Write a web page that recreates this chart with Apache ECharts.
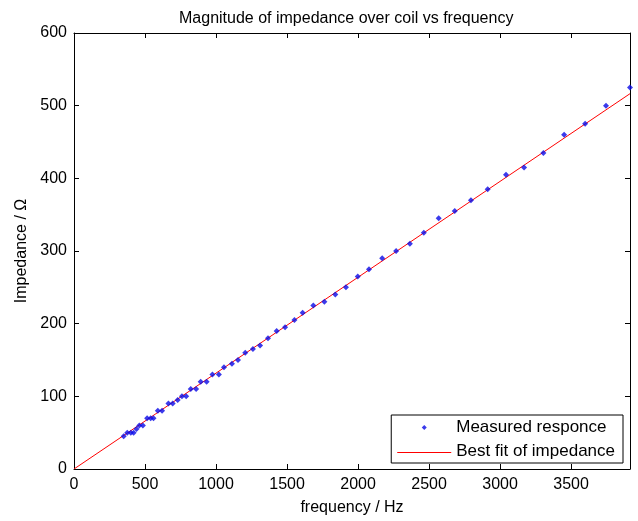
<!DOCTYPE html>
<html>
<head>
<meta charset="utf-8">
<script src="https://cdn.jsdelivr.net/npm/echarts@6/dist/echarts.min.js"></script>
<style>
html,body{margin:0;padding:0;background:#fff;}
#main{width:638px;height:521px;}
</style>
</head>
<body>
<div id="main"></div>
<script>
// Measured data
var frequency = [350,375,400,420,440,460,485,515,540,560,590,620,665,695,730,760,790,822,860,892,934,975,1020,1056,1112,1155,1206,1260,1310,1366,1427,1486,1552,1610,1685,1763,1840,1915,1998,2077,2170,2268,2365,2463,2568,2681,2795,2913,3042,3169,3305,3451,3599,3746,3915];
var impedance = [45,50,50,50,55,60,60,70,70,70,80,80,90,90,95,100,100,110,110,120,120,130,130,140,145,150,160,165,170,180,190,195,205,215,225,230,240,250,265,275,290,300,310,325,345,355,370,385,405,415,435,460,475,500,525];
// Best-fit line end points
var fitFreq = [0, 3915];
var fitImp = [0, 516.5];
var xTicks = [0,500,1000,1500,2000,2500,3000,3500];
var yTicks = [0,100,200,300,400,500,600];

var measured = frequency.map(function(f,i){return [f, impedance[i]];});
var fit = fitFreq.map(function(f,i){return [f, fitImp[i]];});

var font = 'Liberation Sans, Arial, sans-serif';
var chart = echarts.init(document.getElementById('main'), null, {renderer:'canvas'});
var axisCommon = {
  axisLine:{show:true, onZero:false, lineStyle:{color:'#000', width:1}},
  axisTick:{show:true, inside:true, length:5, lineStyle:{color:'#000'}},
  splitLine:{show:false}
};
chart.setOption({
  animation:false,
  backgroundColor:'#fff',
  title:{text:'Magnitude of impedance over coil vs frequency', left:174, top:6,
    textStyle:{fontFamily:font, fontSize:16, fontWeight:'normal', color:'#000'}},
  grid:{left:74, right:8, top:33, bottom:49},
  legend:{
    orient:'vertical', right:15, bottom:58,
    itemWidth:54, itemHeight:6, itemGap:7, align:'left',
    padding:[4,8,3,6],
    borderColor:'#000', borderWidth:1, backgroundColor:'#fff', borderRadius:0,
    textStyle:{fontFamily:font, fontSize:17, color:'#000', padding:[0,0,0,0]},
    data:[
      {name:'Measured responce', icon:'path://M0 0M54 6M27 0.5L29.5 3L27 5.5L24.5 3Z',
        itemStyle:{color:'#0a0ae6'}},
      {name:'Best fit of impedance', icon:'rect',
        itemStyle:{color:'rgba(0,0,0,0)', borderWidth:0, borderColor:'rgba(0,0,0,0)'}}
    ]
  },
  xAxis:[
    Object.assign({type:'value', min:0, max:3915, interval:500, position:'bottom',
      name:'frequency / Hz', nameLocation:'middle', nameGap:31,
      nameTextStyle:{fontFamily:font, fontSize:16, color:'#000'},
      axisLabel:{fontFamily:font, fontSize:16, color:'#000', margin:8, showMaxLabel:false,
        formatter:function(v){return xTicks.indexOf(v)>=0 ? String(v) : '';}}}, axisCommon),
    Object.assign({type:'value', min:0, max:3915, interval:500, position:'top',
      axisLabel:{show:false}}, axisCommon)
  ],
  yAxis:[
    Object.assign({type:'value', min:0, max:600, interval:100, position:'left',
      name:'Impedance / \u03A9', nameLocation:'middle', nameGap:43, nameRotate:90,
      nameTextStyle:{fontFamily:font, fontSize:16, color:'#000'},
      axisLabel:{fontFamily:font, fontSize:16, color:'#000', margin:7,
        formatter:function(v){return yTicks.indexOf(v)>=0 ? String(v) : '';}}}, axisCommon),
    Object.assign({type:'value', min:0, max:600, interval:100, position:'right',
      axisLabel:{show:false}}, axisCommon)
  ],
  series:[
    {name:'Measured responce', type:'scatter', data:measured, symbol:'diamond', symbolSize:6,
      itemStyle:{color:'#0a0ae6'}, z:3},
    {name:'Best fit of impedance', type:'line', data:fit, symbol:'none', showSymbol:false,
      lineStyle:{color:'#ff0000', width:1}, itemStyle:{color:'#ff0000'}, z:2}
  ]
});

// Draw the red sample line of the legend exactly over the (transparent) legend icon
function placeLegendLine(){
  var view = null;
  var legendModel = chart.getModel().getComponent('legend');
  var views = chart._componentsViews || [];
  for (var i = 0; i < views.length; i++) {
    if (views[i] && views[i].__model === legendModel) { view = views[i]; break; }
  }
  var found = null;
  if (view && view.group) {
    view.group.traverse(function(el){
      if (!found && el.type !== 'group' && el.shape && el.shape.width === 54 && el.style && el.style.fill === 'rgba(0,0,0,0)') {
        found = el;
      }
    });
  }
  if (found) {
    var r = found.getBoundingRect().clone();
    r.applyTransform(found.getComputedTransform());
    var y = Math.round(r.y + r.height / 2) + 0.5;
    chart.setOption({graphic:[{type:'line', z:100, silent:true,
      shape:{x1:r.x, y1:y, x2:r.x + r.width, y2:y},
      style:{stroke:'#ff0000', lineWidth:1}}]});
  }
}
placeLegendLine();
</script>
</body>
</html>
